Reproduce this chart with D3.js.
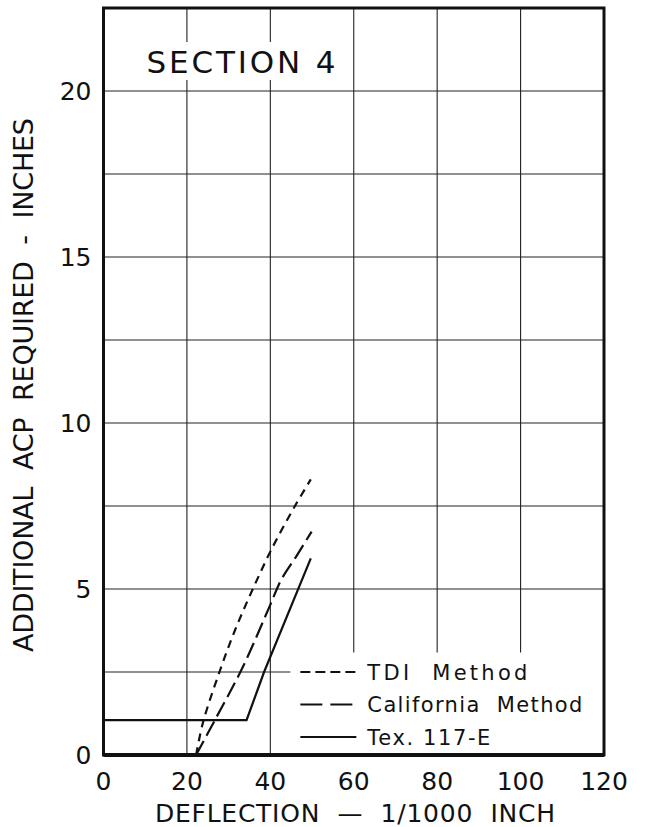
<!DOCTYPE html>
<html>
<head>
<meta charset="utf-8">
<script src="https://cdn.jsdelivr.net/npm/d3@7"></script>
<style>
  html, body { margin: 0; padding: 0; background: #fff; }
  text { font-family: "DejaVu Sans", sans-serif; fill: #111; }
</style>
</head>
<body>
<div id="chart"></div>
<script>
// values
const tdiX = [22.2, 23.9, 27.8, 31.5, 35.8, 40.3, 45.9, 49.7];
const tdiY = [0, 1.0, 2.5, 3.75, 5.0, 6.2, 7.5, 8.3];

const caliX = [22.2, 26.7, 33.4, 39.9, 42.7, 46.3, 49.9];
const caliY = [0, 1.05, 2.65, 4.5, 5.3, 6.0, 6.73];

const texX = [0, 34.3, 38.5, 49.7];
const texY = [1.05, 1.05, 2.5, 5.92];

const xTicks = [0, 20, 40, 60, 80, 100, 120];
const yTicks = [0, 5, 10, 15, 20];
const yGrid = [2.5, 5, 7.5, 10, 12.5, 15, 17.5, 20];
const legendLabels = ["TDI  Method", "California  Method", "Tex. 117-E"];

const width = 645, height = 827;

const x = d3.scaleLinear().domain([0, 120]).range([103.5, 604]);
const y = d3.scaleLinear().domain([0, 22.5]).range([755, 8]);

const svg = d3.select("#chart")
    .append("svg")
    .attr("width", width)
    .attr("height", height);

svg.append("rect")
    .attr("width", width)
    .attr("height", height)
    .attr("fill", "#fff");

// grid
svg.append("g")
    .selectAll("line")
    .data(xTicks.slice(1, -1))
    .join("line")
    .attr("x1", d => x(d)).attr("x2", d => x(d))
    .attr("y1", y(0)).attr("y2", y(22.5))
    .attr("stroke", "#222")
    .attr("stroke-width", 1.1);

svg.append("g")
    .selectAll("line")
    .data(yGrid)
    .join("line")
    .attr("x1", x(0)).attr("x2", x(120))
    .attr("y1", d => y(d)).attr("y2", d => y(d))
    .attr("stroke", "#222")
    .attr("stroke-width", 1.1);

// title with white box behind
const title = svg.append("g");
const titleText = title.append("text")
    .attr("x", x(10.3))
    .attr("y", y(20) - 18)
    .attr("font-size", 31)
    .attr("textLength", 189)
    .attr("lengthAdjust", "spacing")
    .text("SECTION 4");
const tb = titleText.node().getBBox();
title.insert("rect", ":first-child")
    .attr("x", tb.x - 6)
    .attr("y", tb.y - 2)
    .attr("width", tb.width + 12)
    .attr("height", tb.height + 2)
    .attr("fill", "#fff");

// legend
const legendStyles = [
    { dash: "10,5", line: "8,6" },
    { dash: "22,8", line: "16,6" },
    { dash: null, line: null }
];
const legend = svg.append("g");
const lx = x(47.2);
legendLabels.forEach((label, i) => {
    const ly = y(2.5) + i * 32.5;
    legend.append("line")
        .attr("x1", lx).attr("x2", lx + 56)
        .attr("y1", ly).attr("y2", ly)
        .attr("stroke", "#111")
        .attr("stroke-width", 2)
        .attr("stroke-dasharray", legendStyles[i].dash);
    legend.append("text")
        .attr("x", lx + 67)
        .attr("y", ly + 7.5)
        .attr("font-size", 21)
        .style("white-space", "pre")
        .attr("textLength", [160, 215, 123][i])
        .attr("lengthAdjust", "spacing")
        .text(label);
});
const lb = legend.node().getBBox();
legend.insert("rect", ":first-child")
    .attr("x", lb.x - 10)
    .attr("y", lb.y - 8)
    .attr("width", x(120) - lb.x + 10)
    .attr("height", y(0) - lb.y + 8)
    .attr("fill", "#fff");

// curves
const smooth = d3.line()
    .x(d => x(d[0]))
    .y(d => y(d[1]))
    .curve(d3.curveCatmullRom.alpha(0.5));
const straight = d3.line()
    .x(d => x(d[0]))
    .y(d => y(d[1]));

const series = [
    { xs: tdiX, ys: tdiY, dash: legendStyles[0].line, gen: smooth },
    { xs: caliX, ys: caliY, dash: legendStyles[1].line, gen: smooth },
    { xs: texX, ys: texY, dash: null, gen: straight }
];
series.forEach(s => {
    svg.append("path")
        .datum(s.xs.map((v, i) => [v, s.ys[i]]))
        .attr("d", s.gen)
        .attr("fill", "none")
        .attr("stroke", "#111")
        .attr("stroke-width", 2.2)
        .attr("stroke-dasharray", s.dash);
});

// frame
svg.append("rect")
    .attr("x", x(0))
    .attr("y", y(22.5))
    .attr("width", x(120) - x(0))
    .attr("height", y(0) - y(22.5))
    .attr("fill", "none")
    .attr("stroke", "#111")
    .attr("stroke-width", 3);
svg.append("line")
    .attr("x1", x(0)).attr("x2", x(120))
    .attr("y1", y(0)).attr("y2", y(0))
    .attr("stroke", "#111")
    .attr("stroke-width", 4);

// tick labels
svg.append("g")
    .selectAll("text")
    .data(xTicks)
    .join("text")
    .attr("x", d => x(d))
    .attr("y", y(0) + 35)
    .attr("text-anchor", "middle")
    .attr("font-size", 25)
    .text(d => d);

svg.append("g")
    .selectAll("text")
    .data(yTicks)
    .join("text")
    .attr("x", x(0) - 12)
    .attr("y", d => y(d) + 9)
    .attr("text-anchor", "end")
    .attr("font-size", 25)
    .text(d => d);

// axis titles
svg.append("text")
    .attr("x", 355)
    .attr("y", 822)
    .attr("text-anchor", "middle")
    .attr("font-size", 25)
    .attr("textLength", 400)
    .attr("lengthAdjust", "spacing")
    .style("white-space", "pre")
    .text("DEFLECTION  —  1/1000  INCH");

svg.append("text")
    .attr("transform", "translate(33,385) rotate(-90)")
    .attr("text-anchor", "middle")
    .attr("font-size", 27)
    .attr("textLength", 534)
    .attr("lengthAdjust", "spacing")
    .style("white-space", "pre")
    .text("ADDITIONAL  ACP  REQUIRED  -  INCHES");
</script>
</body>
</html>
